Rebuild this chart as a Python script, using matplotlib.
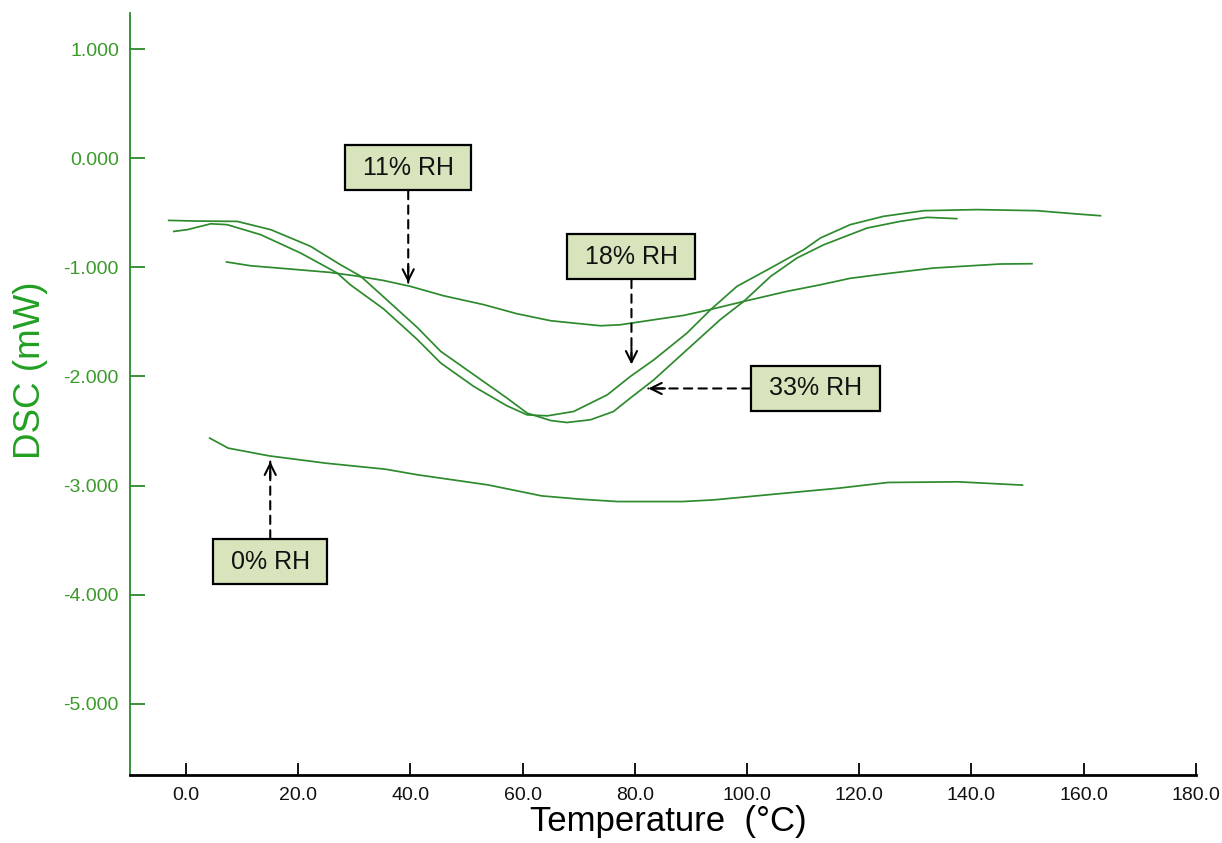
import matplotlib
matplotlib.use("Agg")
import matplotlib.pyplot as plt
from matplotlib.ticker import FormatStrFormatter

# ---- data ----
t_0 = [4.2, 7.5, 14.8, 24.9, 35.5, 41.3, 53.8, 63.4, 70.2, 76.9, 88.5, 94.2,
       106.8, 116.4, 125.1, 137.6, 149.1]
dsc_0 = [-2.565, -2.657, -2.728, -2.795, -2.850, -2.902, -2.994, -3.095, -3.125,
         -3.147, -3.147, -3.131, -3.07, -3.024, -2.972, -2.966, -2.996]

t_11 = [7.2, 11.5, 18.6, 25.7, 30.5, 35.2, 40.0, 45.9, 53.1, 59.0, 65.0, 69.0,
        73.9, 77.4, 83.4, 88.7, 93.3, 99.4, 107.1, 113.1, 118.4, 124.3, 133.2,
        145.1, 150.8]
dsc_11 = [-0.950, -0.985, -1.015, -1.046, -1.08, -1.12, -1.174, -1.26, -1.342,
          -1.425, -1.489, -1.51, -1.535, -1.526, -1.48, -1.44, -1.388, -1.312,
          -1.22, -1.159, -1.10, -1.061, -1.006, -0.969, -0.966]

t_18 = [-2.2, 0.2, 4.4, 7.3, 13.3, 20.4, 26.9, 29.3, 35.2, 41.2, 45.4, 51.3,
        57.2, 60.8, 64.4, 69.1, 75.1, 79.2, 83.4, 89.3, 93.5, 98.2, 104.2,
        110.1, 113.1, 118.4, 124.3, 131.5, 141.0, 151.7, 158.8, 163.0]
dsc_18 = [-0.67, -0.654, -0.60, -0.608, -0.70, -0.868, -1.05, -1.16, -1.38,
          -1.66, -1.877, -2.092, -2.269, -2.352, -2.361, -2.321, -2.168, -2.0,
          -1.847, -1.602, -1.388, -1.174, -1.006, -0.838, -0.73, -0.608, -0.532,
          -0.48, -0.47, -0.48, -0.51, -0.526]

t_33 = [-3.1, 2.0, 9.1, 15.1, 22.2, 27.5, 31.1, 35.2, 41.2, 45.4, 51.3, 57.2,
        60.8, 65.0, 67.9, 72.1, 76.2, 79.2, 83.4, 89.3, 95.2, 99.4, 104.2,
        108.9, 113.7, 121.4, 127.3, 132.1, 137.4]
dsc_33 = [-0.569, -0.575, -0.578, -0.654, -0.807, -0.975, -1.08, -1.27, -1.55,
          -1.77, -1.984, -2.198, -2.336, -2.404, -2.422, -2.397, -2.321, -2.198,
          -2.03, -1.755, -1.48, -1.312, -1.083, -0.914, -0.792, -0.639, -0.578,
          -0.541, -0.553]

labels = ["11% RH", "18% RH", "33% RH", "0% RH"]
label_xy = [(39.6, -0.085), (79.4, -0.90), (112.2, -2.11), (15.0, -3.70)]
arrow_xy = [(39.6, -1.14), (79.4, -1.89), (82.4, -2.11), (15.0, -2.78)]
# direction the arrow head comes from (unit offsets, in points)
head_dir = [(0, 1), (0, 1), (1, 0), (0, -1)]

x_ticks = [0, 20, 40, 60, 80, 100, 120, 140, 160, 180]
y_ticks = [1, 0, -1, -2, -3, -4, -5]

# ---- figure ----
plt.rcParams['font.family'] = ['Liberation Sans', 'DejaVu Sans']
fig = plt.figure(figsize=(12.22, 8.43), dpi=100)
ax = fig.add_axes([0.1064, 0.0807, 0.8721, 0.9043])

line_color = '#2d8a2d'
for t, d in [(t_0, dsc_0), (t_11, dsc_11), (t_18, dsc_18), (t_33, dsc_33)]:
    ax.plot(t, d, color=line_color, lw=1.25)

ax.set_xlim(-10, 180)
ax.set_ylim(-5.654, 1.336)

ax.set_xticks(x_ticks)
ax.set_yticks(y_ticks)
ax.xaxis.set_major_formatter(FormatStrFormatter('%.1f'))
ax.yaxis.set_major_formatter(FormatStrFormatter('%.3f'))

tick_green = '#3a9a2a'
ax.tick_params(axis='x', direction='in', length=9, width=1.3, color='black',
               labelsize=14, pad=9, labelcolor='#111111')
ax.tick_params(axis='y', direction='in', length=11, width=1.3, color='#2a8a2a',
               labelsize=14, pad=8, labelcolor=tick_green)
ax.xaxis.get_major_ticks()[-1].tick1line.set_color('#2030d0')

for s in ['top', 'right']:
    ax.spines[s].set_visible(False)
ax.spines['left'].set_color('#2a8a2a')
ax.spines['left'].set_linewidth(1.3)
ax.spines['bottom'].set_color('black')
ax.spines['bottom'].set_linewidth(2.0)

ax.set_xlabel('Temperature  (°C)', fontsize=25, color='black')
ax.xaxis.set_label_coords(0.505, -0.040)
ax.set_ylabel('DSC (mW)', fontsize=26.5, color='#22a022')
ax.yaxis.set_label_coords(-0.077, 0.531)

for lab, (lx, ly), (tx, ty), (hx, hy) in zip(labels, label_xy, arrow_xy, head_dir):
    # dashed shaft from the box to the target
    ax.annotate(' ' + lab + ' ', xy=(tx, ty), xytext=(lx, ly),
                ha='center', va='center', fontsize=18, color='#111111',
                bbox=dict(boxstyle='square,pad=0.42', fc='#d8e4bc', ec='black',
                          lw=1.6),
                arrowprops=dict(arrowstyle='-', linestyle=(0, (4, 3)),
                                color='black', lw=1.5, shrinkA=0, shrinkB=0))
    # solid open arrow head
    ax.annotate('', xy=(tx, ty), xytext=(hx * 12, hy * 12),
                textcoords='offset points',
                arrowprops=dict(arrowstyle='->,head_length=0.8,head_width=0.4',
                                color='black', lw=1.5, shrinkA=0, shrinkB=0))

fig.savefig('out.png', dpi=100)
